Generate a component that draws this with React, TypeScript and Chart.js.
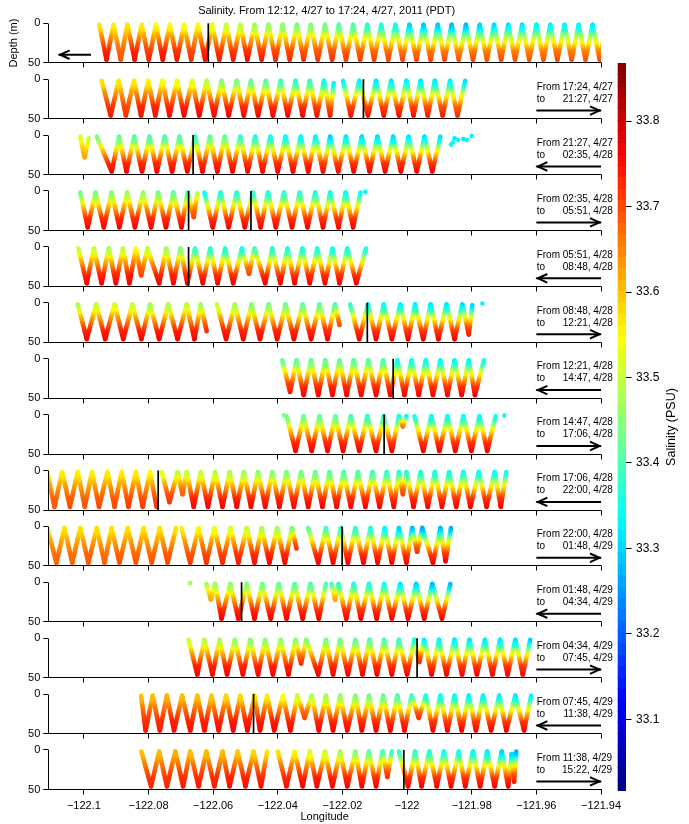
import React, { useEffect, useRef } from 'react';
import { Chart, registerables } from 'chart.js';

Chart.register(...registerables);

// ---------------- data ----------------
const TITLE = 'Salinity. From 12:12, 4/27 to 17:24, 4/27, 2011 (PDT)';
const X_LABEL = 'Longitude';
const Y_LABEL = 'Depth (m)';
const CB_LABEL = 'Salinity (PSU)';

const LON_RANGE = [-122.111, -121.94];
const LON_TICKS = [-122.1, -122.08, -122.06, -122.04, -122.02, -122.0, -121.98, -121.96, -121.94];
const DEPTH_TICKS = [0, 50];
const SAL_RANGE = [33.0167, 33.8675];
const SAL_TICKS = [33.1, 33.2, 33.3, 33.4, 33.5, 33.6, 33.7, 33.8];

const FROM_TIMES = [null, '17:24, 4/27', '21:27, 4/27', '02:35, 4/28', '05:51, 4/28', '08:48, 4/28', '12:21, 4/28',
  '14:47, 4/28', '17:06, 4/28', '22:00, 4/28', '01:48, 4/29', '04:34, 4/29', '07:45, 4/29', '11:38, 4/29'];
const TO_TIMES = [null, '21:27, 4/27', '02:35, 4/28', '05:51, 4/28', '08:48, 4/28', '12:21, 4/28', '14:47, 4/28',
  '17:06, 4/28', '22:00, 4/28', '01:48, 4/29', '04:34, 4/29', '07:45, 4/29', '11:38, 4/29', '15:22, 4/29'];
const DIRECTIONS = [-1, 1, -1, 1, -1, 1, -1, 1, -1, 1, -1, 1, -1, 1];
const FIRST_ARROW_LON = [-122.0978, -122.1078];
const ARROW_LON = [-121.96, -121.94];

// ship position markers (longitude) per panel
const MARKERS = [[-122.0615], [-122.0135], [-122.0662], [-122.0676, -122.0483], [-122.0676], [-122.0123], [-122.0043],
  [-122.0071], [-122.0770], [-122.0201], [-122.0512], [-121.9969], [-122.0475], [-122.0010]];

// glider turning points per panel: [longitude, depth (m), salinity (PSU)], null = gap
const P1 = [[-122.0952,2,33.57],[-122.0930,46,33.75],[-122.0908,2,33.56],[-122.0886,46,33.69],[-122.0865,2,33.57],[-122.0843,46,33.75],[-122.0821,2,33.56],[-122.0799,46,33.73],[-122.0777,2,33.55],[-122.0756,46,33.75],[-122.0734,2,33.55],[-122.0712,46,33.74],[-122.0690,2,33.54],[-122.0668,46,33.72],[-122.0647,2,33.55],[-122.0625,46,33.75],[-122.0603,2,33.52],[-122.0581,46,33.74],[-122.0559,2,33.50],[-122.0538,46,33.74],[-122.0516,2,33.49],[-122.0494,46,33.75],[-122.0472,2,33.47],[-122.0450,46,33.74],[-122.0429,2,33.46],[-122.0407,46,33.73],[-122.0385,2,33.45],[-122.0363,46,33.73],[-122.0341,2,33.44],[-122.0320,46,33.72],[-122.0298,2,33.44],[-122.0276,46,33.72],[-122.0254,2,33.43],[-122.0232,46,33.72],[-122.0211,2,33.41],[-122.0189,46,33.71],[-122.0167,2,33.40],[-122.0145,46,33.71],[-122.0123,2,33.37],[-122.0102,46,33.71],[-122.0080,2,33.36],[-122.0058,46,33.70],[-122.0036,2,33.34],[-122.0014,46,33.70],[-121.9993,2,33.30],[-121.9971,46,33.70],[-121.9949,2,33.29],[-121.9927,46,33.70],[-121.9905,2,33.29],[-121.9884,46,33.70],[-121.9862,2,33.28],[-121.9840,46,33.69],[-121.9818,2,33.28],[-121.9796,46,33.70],[-121.9775,2,33.30],[-121.9753,46,33.69],[-121.9731,2,33.31],[-121.9709,46,33.70],[-121.9687,2,33.32],[-121.9666,46,33.69],[-121.9644,2,33.32],[-121.9622,46,33.69],[-121.9600,2,33.33],[-121.9578,46,33.69],[-121.9557,2,33.33],[-121.9535,46,33.70],[-121.9513,2,33.33],[-121.9491,46,33.69],[-121.9469,2,33.33],[-121.9448,46,33.69],[-121.9426,2,33.32],[-121.9404,46,33.69],[-121.9385,2,33.32]];
const P2 = [[-122.0945,2,33.57],[-122.0917,46,33.74],[-122.0892,2,33.56],[-122.0870,46,33.72],[-122.0845,2,33.56],[-122.0823,46,33.75],[-122.0801,2,33.55],[-122.0779,46,33.75],[-122.0757,2,33.54],[-122.0735,46,33.75],[-122.0712,2,33.53],[-122.0690,46,33.76],[-122.0665,2,33.52],[-122.0643,46,33.76],[-122.0620,2,33.49],[-122.0597,46,33.76],[-122.0574,2,33.45],[-122.0552,46,33.76],[-122.0527,2,33.44],[-122.0505,46,33.76],[-122.0483,2,33.42],[-122.0461,46,33.76],[-122.0437,2,33.41],[-122.0415,46,33.76],[-122.0391,2,33.39],[-122.0369,46,33.76],[-122.0345,2,33.37],[-122.0323,46,33.76],[-122.0301,2,33.38],[-122.0279,46,33.75],[-122.0257,2,33.34],[-122.0238,46,33.74],[-122.0227,5,33.33],
  null,
  [-122.0198,2,33.33],[-122.0174,46,33.75],[-122.0148,2,33.33],[-122.0121,46,33.75],[-122.0096,2,33.32],[-122.0072,46,33.75],[-122.0049,2,33.32],[-122.0025,46,33.75],[-122.0002,2,33.33],[-121.9980,46,33.75],[-121.9958,2,33.32],[-121.9936,46,33.74],[-121.9914,2,33.32],[-121.9890,46,33.74],[-121.9867,2,33.33],[-121.9844,46,33.72],[-121.9820,2,33.31]];
const P3 = [[-122.1011,2,33.52],[-122.0998,28,33.62],[-122.0985,4,33.50],
  null,
  [-122.0960,2,33.44],[-122.0914,46,33.76],[-122.0891,2,33.42],[-122.0868,46,33.76],[-122.0844,2,33.41],[-122.0820,46,33.76],[-122.0797,2,33.40],[-122.0774,46,33.76],[-122.0750,2,33.40],[-122.0727,46,33.76],[-122.0704,2,33.40],[-122.0680,46,33.76],[-122.0656,2,33.38],[-122.0633,46,33.76],[-122.0610,2,33.42],[-122.0587,46,33.76],[-122.0564,2,33.42],[-122.0540,46,33.76],[-122.0516,2,33.38],[-122.0493,46,33.76],[-122.0470,2,33.36],[-122.0447,46,33.76],[-122.0423,2,33.35],[-122.0400,46,33.76],[-122.0376,2,33.34],[-122.0353,46,33.76],[-122.0329,2,33.33],[-122.0306,46,33.76],[-122.0283,2,33.33],[-122.0260,46,33.75],[-122.0238,2,33.30],[-122.0213,46,33.75],[-122.0189,2,33.32],[-122.0165,46,33.76],[-122.0140,2,33.31],[-122.0116,46,33.76],[-122.0092,2,33.31],[-122.0068,46,33.76],[-122.0043,2,33.31],[-122.0019,46,33.76],[-121.9995,2,33.32],[-121.9970,46,33.76],[-121.9946,2,33.32],[-121.9922,46,33.76],[-121.9897,2,33.31]];
const P4 = [[-122.1011,2,33.43],[-122.0988,46,33.76],[-122.0964,2,33.44],[-122.0938,46,33.76],[-122.0914,2,33.45],[-122.0890,46,33.76],[-122.0866,2,33.47],[-122.0842,46,33.76],[-122.0817,2,33.46],[-122.0792,46,33.76],[-122.0770,2,33.44],[-122.0746,46,33.76],[-122.0723,2,33.42],[-122.0698,46,33.76],[-122.0679,2,33.40],[-122.0660,33,33.70],[-122.0649,3,33.50],
  null,
  [-122.0627,2,33.34],[-122.0601,46,33.76],[-122.0577,2,33.36],[-122.0552,46,33.76],[-122.0527,2,33.37],[-122.0502,46,33.76],[-122.0477,2,33.37],[-122.0453,46,33.76],[-122.0430,2,33.36],[-122.0406,46,33.76],[-122.0381,2,33.37],[-122.0356,46,33.76],[-122.0332,2,33.37],[-122.0308,46,33.76],[-122.0284,2,33.36],[-122.0260,46,33.76],[-122.0238,2,33.35],[-122.0212,46,33.76],[-122.0190,2,33.34],[-122.0167,46,33.76],[-122.0144,2,33.34]];
const P5 = [[-122.1017,2,33.50],[-122.0991,46,33.76],[-122.0969,2,33.50],[-122.0945,46,33.76],[-122.0923,2,33.48],[-122.0901,46,33.76],[-122.0879,2,33.50],[-122.0859,46,33.76],[-122.0839,2,33.55],[-122.0823,36,33.70],[-122.0803,2,33.50],[-122.0767,46,33.76],[-122.0745,2,33.47],[-122.0723,46,33.76],[-122.0701,2,33.45],[-122.0680,46,33.76],[-122.0656,2,33.38],[-122.0632,46,33.76],[-122.0609,2,33.37],[-122.0586,46,33.76],[-122.0563,2,33.36],[-122.0538,46,33.76],[-122.0511,2,33.35],[-122.0489,34,33.70],[-122.0472,2,33.40],[-122.0439,46,33.76],[-122.0417,2,33.37],[-122.0392,46,33.76],[-122.0370,2,33.36],[-122.0348,46,33.76],[-122.0324,2,33.36],[-122.0301,46,33.76],[-122.0278,2,33.36],[-122.0254,46,33.76],[-122.0231,2,33.35],[-122.0209,46,33.76],[-122.0185,2,33.35],[-122.0157,46,33.76],[-122.0127,2,33.35]];
const P6 = [[-122.1019,2,33.48],[-122.0991,46,33.76],[-122.0962,2,33.50],[-122.0934,46,33.76],[-122.0905,2,33.52],[-122.0878,46,33.76],[-122.0850,2,33.50],[-122.0822,46,33.76],[-122.0795,2,33.47],[-122.0767,46,33.76],[-122.0739,2,33.48],[-122.0710,46,33.76],[-122.0682,2,33.50],[-122.0658,46,33.76],[-122.0638,2,33.47],[-122.0620,36,33.72],
  null,
  [-122.0588,2,33.50],[-122.0560,46,33.76],[-122.0533,2,33.47],[-122.0507,46,33.76],[-122.0481,2,33.45],[-122.0455,46,33.76],[-122.0428,2,33.44],[-122.0402,46,33.76],[-122.0376,2,33.43],[-122.0350,46,33.76],[-122.0323,2,33.42],[-122.0297,46,33.76],[-122.0271,2,33.42],[-122.0246,46,33.76],[-122.0223,2,33.40],[-122.0209,28,33.70],
  null,
  [-122.0176,2,33.38],[-122.0148,46,33.76],[-122.0121,2,33.35],[-122.0096,46,33.76],[-122.0072,2,33.34],[-122.0047,46,33.76],[-122.0021,2,33.33],[-121.9997,46,33.76],[-121.9975,2,33.33],[-121.9950,46,33.76],[-121.9927,2,33.32],[-121.9903,46,33.76],[-121.9878,2,33.32],[-121.9853,46,33.76],[-121.9829,2,33.31],[-121.9809,40,33.74],[-121.9798,3,33.30]];
const P7 = [[-122.0386,2,33.42],[-122.0362,42,33.74],[-122.0342,2,33.42],[-122.0320,46,33.76],[-122.0297,2,33.42],[-122.0275,46,33.76],[-122.0253,2,33.42],[-122.0231,46,33.76],[-122.0209,2,33.42],[-122.0187,46,33.76],[-122.0165,2,33.41],[-122.0142,46,33.76],[-122.0120,2,33.41],[-122.0096,46,33.76],[-122.0074,2,33.40],[-122.0052,46,33.76],[-122.0030,2,33.35],[-122.0008,46,33.76],[-121.9986,2,33.35],[-121.9964,46,33.76],[-121.9942,2,33.34],[-121.9920,46,33.76],[-121.9897,2,33.34],[-121.9875,46,33.76],[-121.9853,2,33.34],[-121.9831,46,33.76],[-121.9809,2,33.34],[-121.9790,46,33.76],[-121.9762,2,33.35]];
const P8 = [[-122.0373,2,33.43],[-122.0345,46,33.76],[-122.0320,2,33.43],[-122.0295,46,33.76],[-122.0271,2,33.42],[-122.0246,46,33.76],[-122.0222,2,33.42],[-122.0198,46,33.76],[-122.0174,2,33.40],[-122.0148,46,33.76],[-122.0123,2,33.37],[-122.0096,46,33.76],[-122.0072,2,33.37],[-122.0047,46,33.76],[-122.0025,2,33.35],[-122.0013,15,33.66],[-122.0002,2,33.33],
  null,
  [-121.9977,2,33.36],[-121.9950,46,33.76],[-121.9925,2,33.34],[-121.9900,46,33.76],[-121.9875,2,33.35],[-121.9851,46,33.76],[-121.9826,2,33.35],[-121.9801,46,33.76],[-121.9776,2,33.34],[-121.9752,46,33.76],[-121.9726,2,33.35]];
const P9 = [[-122.1113,2,33.56],[-122.1091,46,33.69],[-122.1067,2,33.56],[-122.1043,46,33.70],[-122.1019,2,33.56],[-122.0997,46,33.69],[-122.0975,2,33.56],[-122.0953,46,33.70],[-122.0927,2,33.56],[-122.0905,46,33.70],[-122.0883,2,33.56],[-122.0862,46,33.71],[-122.0839,2,33.56],[-122.0818,46,33.71],[-122.0795,2,33.55],[-122.0775,46,33.72],
  null,
  [-122.0759,2,33.52],[-122.0735,40,33.72],[-122.0710,2,33.50],[-122.0695,30,33.68],[-122.0682,2,33.50],[-122.0660,46,33.76],[-122.0638,2,33.50],[-122.0616,46,33.76],[-122.0594,2,33.49],[-122.0571,46,33.76],[-122.0549,2,33.48],[-122.0527,46,33.76],[-122.0505,2,33.47],[-122.0483,46,33.76],[-122.0461,2,33.46],[-122.0439,46,33.76],[-122.0417,2,33.45],[-122.0395,46,33.76],[-122.0373,2,33.44],[-122.0350,46,33.76],[-122.0328,2,33.43],[-122.0306,46,33.76],[-122.0284,2,33.42],[-122.0262,46,33.76],[-122.0240,2,33.41],[-122.0218,46,33.76],[-122.0196,2,33.40],[-122.0174,46,33.76],[-122.0152,2,33.40],[-122.0129,46,33.76],[-122.0107,2,33.39],[-122.0085,46,33.76],[-122.0063,2,33.38],[-122.0041,46,33.76],[-122.0025,2,33.37],[-122.0013,30,33.70],[-122.0002,2,33.37],[-121.9980,46,33.76],[-121.9958,2,33.36],[-121.9936,46,33.76],[-121.9914,2,33.35],[-121.9892,46,33.76],[-121.9870,2,33.35],[-121.9848,46,33.76],[-121.9826,2,33.35],[-121.9804,46,33.76],[-121.9778,2,33.34],[-121.9754,46,33.76],[-121.9729,2,33.34],[-121.9710,46,33.76],[-121.9693,2,33.35]];
const P10 = [[-122.1113,2,33.57],[-122.1085,46,33.68],[-122.1060,2,33.57],[-122.1036,46,33.68],[-122.1011,2,33.57],[-122.0986,46,33.69],[-122.0960,2,33.57],[-122.0936,46,33.68],[-122.0914,2,33.57],[-122.0890,46,33.69],[-122.0864,2,33.57],[-122.0839,46,33.69],[-122.0815,2,33.57],[-122.0790,46,33.69],[-122.0765,2,33.57],[-122.0741,46,33.70],[-122.0715,2,33.57],
  null,
  [-122.0698,2,33.56],[-122.0671,46,33.71],[-122.0645,2,33.55],[-122.0621,46,33.72],[-122.0596,2,33.53],[-122.0571,46,33.73],[-122.0546,2,33.52],[-122.0522,46,33.74],[-122.0496,2,33.50],[-122.0472,46,33.75],[-122.0450,2,33.48],[-122.0426,46,33.76],[-122.0402,2,33.47],[-122.0378,46,33.76],[-122.0356,2,33.45],[-122.0342,28,33.72],
  null,
  [-122.0306,2,33.42],[-122.0275,46,33.76],[-122.0251,2,33.40],[-122.0229,46,33.76],[-122.0205,2,33.38],[-122.0183,46,33.76],[-122.0160,2,33.37],[-122.0135,46,33.76],[-122.0113,2,33.36],[-122.0091,46,33.76],[-122.0069,2,33.33],[-122.0047,46,33.76],[-122.0025,2,33.30],[-122.0002,46,33.76],[-121.9984,2,33.28],[-121.9969,32,33.72],[-121.9953,2,33.27],[-121.9920,46,33.76],[-121.9897,2,33.28],[-121.9881,44,33.76],[-121.9864,2,33.27]];
const P11 = [[-122.0621,2,33.48],[-122.0607,22,33.62],[-122.0594,2,33.47],[-122.0574,46,33.76],[-122.0547,2,33.46],[-122.0522,46,33.76],[-122.0496,2,33.45],[-122.0472,46,33.76],[-122.0448,2,33.43],[-122.0422,46,33.76],[-122.0397,2,33.42],[-122.0373,46,33.76],[-122.0348,2,33.41],[-122.0323,46,33.76],[-122.0299,2,33.40],[-122.0273,46,33.76],[-122.0251,2,33.40],
  null,
  [-122.0234,2,33.40],[-122.0223,22,33.62],[-122.0212,2,33.38],[-122.0188,46,33.76],[-122.0165,2,33.37],[-122.0143,46,33.76],[-122.0118,2,33.36],[-122.0094,46,33.76],[-122.0071,2,33.35],[-122.0047,46,33.76],[-122.0021,2,33.32],[-121.9997,46,33.76],[-121.9972,2,33.30],[-121.9947,46,33.76],[-121.9922,2,33.28],[-121.9892,46,33.76],[-121.9866,2,33.28]];
const P12 = [[-122.0676,2,33.50],[-122.0649,46,33.76],[-122.0627,2,33.49],[-122.0602,46,33.76],[-122.0580,2,33.48],[-122.0557,46,33.76],[-122.0533,2,33.46],[-122.0508,46,33.76],[-122.0485,2,33.45],[-122.0461,46,33.76],[-122.0439,2,33.45],[-122.0415,46,33.76],[-122.0391,2,33.46],[-122.0367,46,33.76],[-122.0345,2,33.45],[-122.0328,32,33.72],[-122.0312,2,33.45],[-122.0275,46,33.76],[-122.0251,2,33.44],[-122.0229,46,33.76],[-122.0207,2,33.43],[-122.0183,46,33.76],[-122.0160,2,33.42],[-122.0138,46,33.76],[-122.0116,2,33.41],[-122.0093,46,33.76],[-122.0071,2,33.40],[-122.0047,46,33.76],[-122.0025,2,33.38],[-122.0000,46,33.76],[-121.9977,2,33.35],[-121.9962,30,33.72],[-121.9947,2,33.33],[-121.9924,46,33.76],[-121.9901,2,33.33],[-121.9878,46,33.76],[-121.9853,2,33.32],[-121.9830,46,33.76],[-121.9807,2,33.32],[-121.9784,46,33.76],[-121.9759,2,33.32],[-121.9736,46,33.76],[-121.9712,2,33.32],[-121.9689,46,33.76],[-121.9665,2,33.31],[-121.9642,46,33.76],[-121.9619,2,33.30]];
const P13 = [[-122.0823,2,33.60],[-122.0809,46,33.74],[-122.0787,2,33.60],[-122.0765,46,33.74],[-122.0743,2,33.61],[-122.0721,46,33.75],[-122.0696,2,33.60],[-122.0671,46,33.75],[-122.0649,2,33.60],[-122.0627,46,33.75],[-122.0605,2,33.59],[-122.0583,46,33.75],[-122.0560,2,33.58],[-122.0538,46,33.76],[-122.0516,2,33.58],[-122.0494,46,33.76],[-122.0472,2,33.57],[-122.0455,46,33.76],[-122.0433,2,33.56],[-122.0411,46,33.76],[-122.0384,2,33.54],[-122.0361,46,33.76],[-122.0339,2,33.50],[-122.0317,30,33.70],[-122.0295,2,33.48],[-122.0273,46,33.76],[-122.0251,2,33.47],[-122.0229,46,33.76],[-122.0207,2,33.46],[-122.0185,46,33.76],[-122.0160,2,33.45],[-122.0140,46,33.76],[-122.0118,2,33.44],[-122.0096,46,33.76],[-122.0074,2,33.42],[-122.0052,46,33.76],[-122.0030,2,33.40],[-122.0008,46,33.76],[-121.9986,2,33.38],[-121.9964,30,33.72],[-121.9942,2,33.35],[-121.9920,46,33.76],[-121.9897,2,33.34],[-121.9875,46,33.76],[-121.9853,2,33.34],[-121.9831,46,33.76],[-121.9809,2,33.33],[-121.9787,46,33.76],[-121.9765,2,33.33],[-121.9740,46,33.76],[-121.9715,2,33.33],[-121.9693,46,33.76],[-121.9665,2,33.32],[-121.9638,46,33.76],[-121.9616,2,33.33]];
const P14 = [[-122.0822,2,33.60],[-122.0792,46,33.73],[-122.0767,2,33.60],[-122.0743,46,33.73],[-122.0717,2,33.61],[-122.0693,46,33.74],[-122.0671,2,33.60],[-122.0645,46,33.74],[-122.0621,2,33.60],[-122.0596,46,33.74],[-122.0571,2,33.60],[-122.0549,46,33.75],[-122.0524,2,33.59],[-122.0500,46,33.75],[-122.0475,2,33.58],[-122.0452,46,33.75],[-122.0433,2,33.57],
  null,
  [-122.0400,2,33.57],[-122.0373,46,33.75],[-122.0348,2,33.55],[-122.0323,46,33.76],[-122.0301,2,33.52],[-122.0279,46,33.76],[-122.0254,2,33.50],[-122.0231,46,33.76],[-122.0207,2,33.48],[-122.0185,46,33.76],[-122.0160,2,33.45],[-122.0140,46,33.76],[-122.0118,2,33.42],[-122.0096,46,33.76],[-122.0076,2,33.40],[-122.0061,34,33.72],[-122.0047,2,33.38],
  null,
  [-122.0025,2,33.38],[-121.9997,46,33.76],[-121.9975,2,33.37],[-121.9955,46,33.76],[-121.9931,2,33.36],[-121.9908,46,33.76],[-121.9886,2,33.35],[-121.9864,46,33.76],[-121.9840,2,33.35],[-121.9820,46,33.76],[-121.9796,2,33.33],[-121.9774,46,33.76],[-121.9752,2,33.32],[-121.9729,46,33.76],[-121.9707,2,33.30],[-121.9687,46,33.76],[-121.9676,5,33.30],[-121.9669,40,33.74],[-121.9662,2,33.27]];

// isolated samples near the surface
const D3 = [[-121.9864,12,33.33],[-121.9853,4,33.32],[-121.9842,6,33.33],[-121.9826,5,33.32],[-121.9815,6,33.33],[-121.9800,1,33.33],[-121.9858,9,33.33]];
const D4 = [[-122.0129,1,33.33]];
const D6 = [[-121.9767,1,33.33]];
const D8 = [[-122.0381,1,33.44],[-121.9699,1,33.35]];
const D11 = [[-122.0671,1,33.47]];

const PANELS = [P1, P2, P3, P4, P5, P6, P7, P8, P9, P10, P11, P12, P13, P14];
const PANEL_DOTS = [[], [], D3, D4, [], D6, [], D8, [], [], D11, [], [], []];

// ---------------- layout / style ----------------
const W = 689, H = 824;
const FONT = '"Liberation Sans", Arial, Helvetica, sans-serif';
const PANEL_STEP = 70.75;          // y-units between panel origins
const Y_MIN = -10.5;
const Y_MAX = (PANELS.length - 1) * PANEL_STEP + 50;
const AREA_TOP = 15, AREA_BOTTOM = 789.5, AREA_LEFT = 48.3, AREA_RIGHT = 601;
const CB_TOP_PX = 63.3, CB_BOTTOM_PX = 790.7;
const CB_PX_PER_UNIT = (CB_BOTTOM_PX - CB_TOP_PX) / (SAL_RANGE[1] - SAL_RANGE[0]);
const CB_AXIS_MIN = SAL_RANGE[0] + (CB_BOTTOM_PX - AREA_BOTTOM) / CB_PX_PER_UNIT;
const CB_AXIS_MAX = SAL_RANGE[1] + (CB_TOP_PX - AREA_TOP) / CB_PX_PER_UNIT;
// how the colour of a leg shifts from its shallow end to its deep end
const PROFILE_U = [0, 0.15, 0.3, 0.45, 0.6, 0.75, 1];
const PROFILE_F = [0, 0.08, 0.38, 0.56, 0.74, 0.9, 1];

function jet(t: number) {
  const c = (v: number) => Math.max(0, Math.min(1, v));
  return [c(1.5 - Math.abs(4 * t - 3)), c(1.5 - Math.abs(4 * t - 2)), c(1.5 - Math.abs(4 * t - 1))];
}
function rgb(a: number[]) {
  return `rgb(${Math.round(a[0] * 255)},${Math.round(a[1] * 255)},${Math.round(a[2] * 255)})`;
}
function salColor(s: number) {
  const t = Math.max(0, Math.min(1, (s - SAL_RANGE[0]) / (SAL_RANGE[1] - SAL_RANGE[0])));
  return rgb(jet(t));
}
function profile(u: number) {
  for (let i = 1; i < PROFILE_U.length; i++) {
    if (u <= PROFILE_U[i]) {
      const t = (u - PROFILE_U[i - 1]) / (PROFILE_U[i] - PROFILE_U[i - 1]);
      return PROFILE_F[i - 1] + t * (PROFILE_F[i] - PROFILE_F[i - 1]);
    }
  }
  return 1;
}
function splitRuns(panel: any[]) {
  const runs: any[][] = [];
  let cur: any[] = [];
  for (const p of panel) {
    if (p === null) { if (cur.length) runs.push(cur); cur = []; }
    else cur.push(p);
  }
  if (cur.length) runs.push(cur);
  return runs;
}
function fmtLon(v: number) {
  const a = Math.abs(v);
  return (v < 0 ? '\u2212' : '') + String(Math.round(a * 100) / 100);
}

export default function App() {
  const ref = useRef<HTMLCanvasElement>(null);

  useEffect(() => {
    const canvas = ref.current as HTMLCanvasElement;
    const g = canvas.getContext('2d') as CanvasRenderingContext2D;

    const segColor = (run: any[]) => (ctx: any) => {
      const a = run[ctx.p0DataIndex], b = run[ctx.p1DataIndex];
      if (!a || !b) return salColor(run[0][2]);
      const aSh = a[1] <= b[1];
      const sh = aSh ? a : b, dp = aSh ? b : a;
      const psh = aSh ? ctx.p0 : ctx.p1, pdp = aSh ? ctx.p1 : ctx.p0;
      if (Math.abs(psh.x - pdp.x) + Math.abs(psh.y - pdp.y) < 0.5) return salColor(sh[2]);
      const grad = g.createLinearGradient(psh.x, psh.y, pdp.x, pdp.y);
      for (let k = 0; k <= 12; k++) {
        const u = k / 12;
        grad.addColorStop(u, salColor(sh[2] + (dp[2] - sh[2]) * profile(u)));
      }
      return grad;
    };

    const datasets: any[] = [];
    PANELS.forEach((panel, k) => {
      const off = k * PANEL_STEP;
      splitRuns(panel).forEach((run) => {
        datasets.push({
          type: 'line',
          data: run.map((p: number[]) => ({ x: p[0], y: off + p[1] })),
          borderColor: salColor(run[0][2]),
          borderWidth: 4.6,
          borderCapStyle: 'round',
          borderJoinStyle: 'round',
          pointRadius: 0,
          pointHoverRadius: 0,
          tension: 0,
          fill: false,
          segment: { borderColor: segColor(run) },
          order: 2,
        });
      });
      const dots = PANEL_DOTS[k];
      if (dots.length) {
        datasets.push({
          type: 'line',
          showLine: false,
          data: dots.map((p: number[]) => ({ x: p[0], y: off + p[1] })),
          pointRadius: 2.3,
          pointBorderWidth: 0,
          pointBackgroundColor: dots.map((p: number[]) => salColor(p[2])),
          order: 1,
        });
      }
      MARKERS[k].forEach((lon) => {
        datasets.push({
          type: 'line',
          data: [{ x: lon, y: off + DEPTH_TICKS[0] }, { x: lon, y: off + DEPTH_TICKS[1] }],
          borderColor: '#000',
          borderWidth: 1.7,
          pointRadius: 0,
          order: 0,
        });
      });
    });

    const yTickValues: number[] = [];
    PANELS.forEach((_, k) => DEPTH_TICKS.forEach((d) => yTickValues.push(k * PANEL_STEP + d)));

    const decor = {
      id: 'decor',
      afterDraw(chart: any) {
        const c = chart.ctx as CanvasRenderingContext2D;
        const xs = chart.scales.x, ys = chart.scales.y, cb = chart.scales.cb;
        const area = chart.chartArea;
        c.save();
        c.strokeStyle = '#000';
        c.fillStyle = '#000';
        c.lineWidth = 1;
        const al = (v: number) => Math.round(v - 0.5) + 0.5;
        // per-panel left axis line and x tick marks
        PANELS.forEach((_, k) => {
          const off = k * PANEL_STEP;
          const y0 = ys.getPixelForValue(off + DEPTH_TICKS[0]);
          const y50 = ys.getPixelForValue(off + DEPTH_TICKS[1]);
          c.beginPath();
          c.moveTo(al(area.left), al(y0));
          c.lineTo(al(area.left), al(y50));
          c.stroke();
          if (k < PANELS.length - 1) {
            LON_TICKS.forEach((v) => {
              const px = al(xs.getPixelForValue(v));
              c.beginPath();
              c.moveTo(px, al(y50));
              c.lineTo(px, al(y50) + 5);
              c.stroke();
            });
          }
        });
        // time annotations + direction arrows
        c.font = `10px ${FONT}`;
        c.textBaseline = 'middle';
        const tx = xs.getPixelForValue(ARROW_LON[0]) + 0.3;
        const drawArrow = (xTail: number, xTip: number, y: number) => {
          c.lineWidth = 2;
          c.beginPath();
          c.moveTo(xTail, y);
          c.lineTo(xTip, y);
          c.stroke();
          const d = Math.sign(xTip - xTail);
          c.beginPath();
          c.moveTo(xTip - d * 11, y - 4.3);
          c.lineTo(xTip - d * 1.5, y);
          c.lineTo(xTip - d * 11, y + 4.3);
          c.stroke();
        };
        PANELS.forEach((_, k) => {
          const off = k * PANEL_STEP;
          const T = ys.getPixelForValue(off);
          const ya = T + 31.4;
          if (k === 0) {
            drawArrow(xs.getPixelForValue(FIRST_ARROW_LON[0]), xs.getPixelForValue(FIRST_ARROW_LON[1]), ya);
            return;
          }
          const fromStr = 'From ' + FROM_TIMES[k];
          c.textAlign = 'left';
          c.fillText(fromStr, tx, T + 8);
          c.fillText('to', tx, T + 20);
          const wFrom = c.measureText(fromStr).width;
          c.textAlign = 'right';
          c.fillText(TO_TIMES[k] as string, tx + wFrom, T + 20);
          const xa = xs.getPixelForValue(ARROW_LON[0]), xb = xs.getPixelForValue(ARROW_LON[1]);
          if (DIRECTIONS[k] > 0) drawArrow(xa, xb, ya); else drawArrow(xb, xa, ya);
        });
        // colorbar
        const bx = area.right + 16.7, bw = 8.3;
        const n = 64;
        const span = SAL_RANGE[1] - SAL_RANGE[0];
        for (let i = 0; i < n; i++) {
          const s0 = SAL_RANGE[0] + (i * span) / n, s1 = SAL_RANGE[0] + ((i + 1) * span) / n;
          const yb = cb.getPixelForValue(s0), yt = cb.getPixelForValue(s1);
          c.fillStyle = rgb(jet((i + 0.5) / n));
          c.fillRect(bx, Math.floor(yt), bw, Math.ceil(yb) - Math.floor(yt));
        }
        c.strokeStyle = '#000';
        c.lineWidth = 1;
        SAL_TICKS.forEach((v) => {
          const py = al(cb.getPixelForValue(v));
          c.beginPath();
          c.moveTo(bx + bw, py);
          c.lineTo(bx + bw + 5.5, py);
          c.stroke();
        });
        // titles
        c.fillStyle = '#000';
        c.textAlign = 'center';
        c.textBaseline = 'middle';
        c.font = `11px ${FONT}`;
        c.fillText(TITLE, (area.left + area.right) / 2 + 2, 11);
        const yMid0 = (ys.getPixelForValue(0) + ys.getPixelForValue(50)) / 2;
        c.save();
        c.translate(14, yMid0);
        c.rotate(-Math.PI / 2);
        c.fillText(Y_LABEL, 0, 0);
        c.restore();
        c.save();
        c.font = `12.5px ${FONT}`;
        c.translate(671.5, (CB_TOP_PX + CB_BOTTOM_PX) / 2);
        c.rotate(-Math.PI / 2);
        c.fillText(CB_LABEL, 0, 0);
        c.restore();
        c.restore();
      },
    };

    const noPad = (s: any) => { s.paddingTop = 0; s.paddingBottom = 0; };

    const chart = new Chart(canvas, {
      type: 'line',
      data: { datasets },
      options: {
        responsive: false,
        animation: false,
        devicePixelRatio: 1,
        events: [],
        layout: { padding: { top: AREA_TOP, left: 0, right: 0, bottom: 0 } },
        plugins: { legend: { display: false }, tooltip: { enabled: false }, title: { display: false } },
        scales: {
          x: {
            type: 'linear',
            position: 'bottom',
            min: LON_RANGE[0],
            max: LON_RANGE[1],
            afterBuildTicks: (s: any) => { s.ticks = LON_TICKS.map((v) => ({ value: v })); },
            afterFit: (s: any) => { s.height = H - AREA_BOTTOM; s.paddingLeft = 0; s.paddingRight = 0; },
            ticks: {
              callback: (v: any) => fmtLon(Number(v)),
              font: { family: FONT, size: 11 },
              color: '#000',
              padding: 5,
              maxRotation: 0,
              autoSkip: false,
            },
            grid: { drawOnChartArea: false, tickLength: 5, tickColor: '#000', color: '#000' },
            border: { display: true, color: '#000', width: 1 },
            title: { display: true, text: X_LABEL, font: { family: FONT, size: 11 }, color: '#000', padding: 0 },
          },
          y: {
            type: 'linear',
            position: 'left',
            reverse: true,
            min: Y_MIN,
            max: Y_MAX,
            afterBuildTicks: (s: any) => { s.ticks = yTickValues.map((v) => ({ value: v })); },
            afterFit: (s: any) => { s.width = AREA_LEFT; noPad(s); },
            ticks: {
              callback: (_v: any, i: number) => String(DEPTH_TICKS[i % 2]),
              font: { family: FONT, size: 11 },
              color: '#000',
              padding: 3,
              autoSkip: false,
            },
            grid: {
              color: (ctx: any) => (ctx.index % 2 === 1 ? '#000' : 'rgba(0,0,0,0)'),
              tickColor: '#000',
              tickLength: 5,
              lineWidth: 1,
            },
            border: { display: false },
          },
          cb: {
            type: 'linear',
            position: 'right',
            min: CB_AXIS_MIN,
            max: CB_AXIS_MAX,
            afterBuildTicks: (s: any) => { s.ticks = SAL_TICKS.map((v) => ({ value: v })); },
            afterFit: (s: any) => { s.width = W - AREA_RIGHT; noPad(s); },
            ticks: {
              callback: (v: any) => Number(v).toFixed(1),
              font: { family: FONT, size: 12 },
              color: '#000',
              padding: 35,
              autoSkip: false,
            },
            grid: { display: false, drawTicks: false, tickLength: 0 },
            border: { display: false },
          },
        },
      } as any,
      plugins: [decor],
    } as any);

    return () => chart.destroy();
  }, []);

  return (
    <div style={{ position: 'absolute', left: 0, top: 0, width: W, height: H, background: '#fff' }}>
      <canvas ref={ref} width={W} height={H} style={{ display: 'block', width: W, height: H }} />
    </div>
  );
}
